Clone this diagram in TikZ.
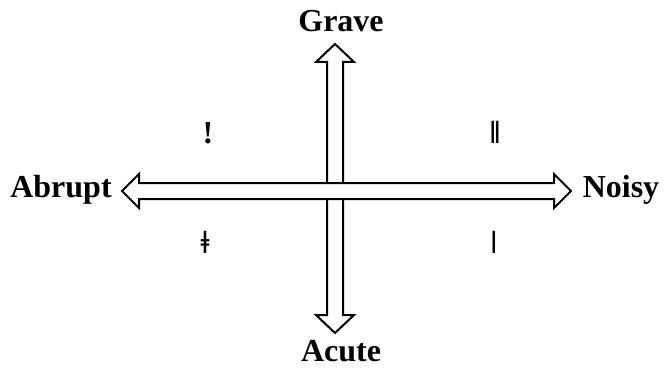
\documentclass[tikz,border=0pt]{standalone}
\usepackage{fontspec}
\setmainfont{Liberation Serif}
\begin{document}
\begin{tikzpicture}[x=1pt,y=-1pt,
  axisarrow/.style={draw=black,fill=white,line width=2pt,line join=miter},
  axislabel/.style={font=\fontsize{32}{38}\selectfont\bfseries,inner sep=0pt,anchor=base},
  clicksym/.style={font=\fontsize{32}{38}\selectfont\bfseries,inner sep=0pt,anchor=base}]
\useasboundingbox (0,0) rectangle (664,369);
% vertical double arrow
\coordinate (T) at (335,44);
\coordinate (B) at (335,333);
\draw[axisarrow] (T) -- (354,62) -- (343,62) -- (343,315) -- (354,315) -- (B)
  -- (316,315) -- (327,315) -- (327,62) -- (316,62) -- cycle;
% horizontal double arrow
\coordinate (L) at (122,191);
\coordinate (R) at (571,191);
\draw[axisarrow] (L) -- (139,174) -- (139,183) -- (554,183) -- (554,174) -- (R)
  -- (554,208) -- (554,199) -- (139,199) -- (139,208) -- cycle;
% labels
\node[axislabel] (grave) at (341,32) {Grave};
\node[axislabel] (acute) at (341,361) {Acute};
\node[axislabel] (abrupt) at (61,197) {Abrupt};
\node[axislabel] (noisy) at (621,197) {Noisy};
% quadrant symbols
\node[clicksym] (q1) at (208,143) {ǃ};
\node[clicksym] (q2) at (495,143) {ǁ};
\node[clicksym] (q3) at (205,253) {ǂ};
\node[clicksym] (q4) at (494,253) {ǀ};
\end{tikzpicture}
\end{document}
